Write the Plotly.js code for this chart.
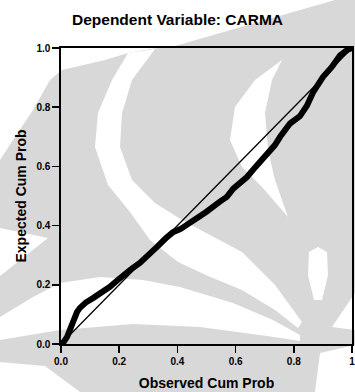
<!DOCTYPE html>
<html><head><meta charset="utf-8">
<script src="https://cdn.plot.ly/plotly-3.0.1.min.js"></script>
<style>html,body{margin:0;padding:0;background:#d8d8d8;}#chart{width:355px;height:392px;}</style>
</head><body><div id="chart"></div>
<script>
// Observed vs expected cumulative probability (P-P plot)
const observedCumProb = [0, 0.01, 0.021, 0.03, 0.038, 0.045, 0.055, 0.065, 0.085, 0.11, 0.14, 0.168, 0.19, 0.213, 0.24, 0.271, 0.3, 0.33, 0.36, 0.385, 0.41, 0.443, 0.478, 0.5, 0.546, 0.57, 0.592, 0.62, 0.639, 0.67, 0.707, 0.735, 0.753, 0.787, 0.821, 0.845, 0.866, 0.9, 0.93, 0.959, 0.983, 1.0];
const expectedCumProb = [0, 0.008, 0.024, 0.045, 0.071, 0.092, 0.108, 0.122, 0.14, 0.155, 0.172, 0.193, 0.212, 0.233, 0.252, 0.274, 0.298, 0.328, 0.357, 0.378, 0.388, 0.408, 0.43, 0.447, 0.481, 0.497, 0.525, 0.546, 0.564, 0.6, 0.64, 0.672, 0.7, 0.745, 0.77, 0.805, 0.85, 0.902, 0.935, 0.975, 0.993, 1.0];
const referenceLineX = [0, 1];
const referenceLineY = [0, 1];
const xTickVals = [0, 0.2, 0.4, 0.6, 0.8, 1];
const xTickText = ["0.0", "0.2", "0.4", "0.6", "0.8", "1"];
const yTickVals = [0, 0.2, 0.4, 0.6, 0.8, 1];
const yTickText = ["0.0", "0.2", "0.4", "0.6", "0.8", "1.0"];

// background watermark (decoration), pixel outlines converted to paper coordinates
const L = 61, R = 352, T = 48, B = 344;
function toPath(pts) {
  return 'M' + pts.map(p => ((p[0] - L) / (R - L)).toFixed(4) + ',' + ((B - p[1]) / (B - T)).toFixed(4)).join('L') + 'Z';
}
const wm = [
  [[0,0],[335,0],[175,46],[150,49],[128,53],[105,60],[62,70],[50,80],[33,110],[13,140],[0,160]],
  [[155,49],[132,80],[122,113],[120,147],[132,180],[155,203],[182,220],[210,235],[242,252],[275,285],[302,322],[298,328],[275,310],[242,290],[208,276],[178,262],[150,240],[130,212],[108,185],[95,147],[98,113],[112,80],[128,53]],
  [[282,60],[272,80],[265,113],[268,150],[275,180],[288,217],[262,187],[242,167],[230,140],[235,107],[255,80]],
  [[0,317],[33,297],[60,283],[100,277],[143,280],[180,287],[233,303],[273,320],[300,335],[300,341],[267,336],[200,327],[133,324],[60,330],[0,340]],
  [[0,228],[48,238],[0,276]],
  [[0,362],[45,366],[80,392],[0,392]],
  [[318,247],[327,252],[328,275],[322,300],[314,300],[308,275],[309,252]],
  [[355,293],[355,330],[332,327]],
  [[320,353],[355,345],[355,392],[315,392]]
];
const shapes = wm.map(p => ({type:'path', xref:'paper', yref:'paper', path:toPath(p), fillcolor:'#ffffff', line:{width:0}, layer:'below'}));

const fontFam = 'Liberation Sans, Arial, sans-serif';
const traces = [
  {x: referenceLineX, y: referenceLineY, mode:'lines', line:{color:'#000', width:1.3}, hoverinfo:'skip', showlegend:false},
  {x: observedCumProb, y: expectedCumProb, mode:'lines', line:{color:'#000', width:6}, showlegend:false}
];
const axisBase = {range:[0,1], showline:true, linecolor:'#000', linewidth:1.6, mirror:true, ticks:'outside', ticklen:7, tickwidth:1.5, tickcolor:'#000', showgrid:false, zeroline:false, tickmode:'array', ticklabeloverflow:'allow', tickfont:{family:fontFam, size:10, color:'#000', weight:'bold'}};
const layout = {
  width:355, height:392,
  margin:{l:L, r:355-R, t:T, b:392-B},
  paper_bgcolor:'#d8d8d8', plot_bgcolor:'rgba(0,0,0,0)',
  title:{text:'Dependent Variable: CARMA', font:{family:fontFam, size:15.5, color:'#000', weight:'bold'}, x:0.5, xanchor:'center', y:0.95, yanchor:'middle', yref:'container'},
  xaxis:Object.assign({}, axisBase, {tickvals:xTickVals, ticktext:xTickText, title:{text:'Observed Cum Prob', font:{family:fontFam, size:14, color:'#000', weight:'bold'}, standoff:12}}),
  yaxis:Object.assign({}, axisBase, {tickvals:yTickVals, ticktext:yTickText, title:{text:'Expected Cum Prob', font:{family:fontFam, size:14, color:'#000', weight:'bold'}, standoff:6}}),
  shapes: shapes
};
Plotly.newPlot('chart', traces, layout, {displayModeBar:false, staticPlot:true});
</script>
</body></html>
